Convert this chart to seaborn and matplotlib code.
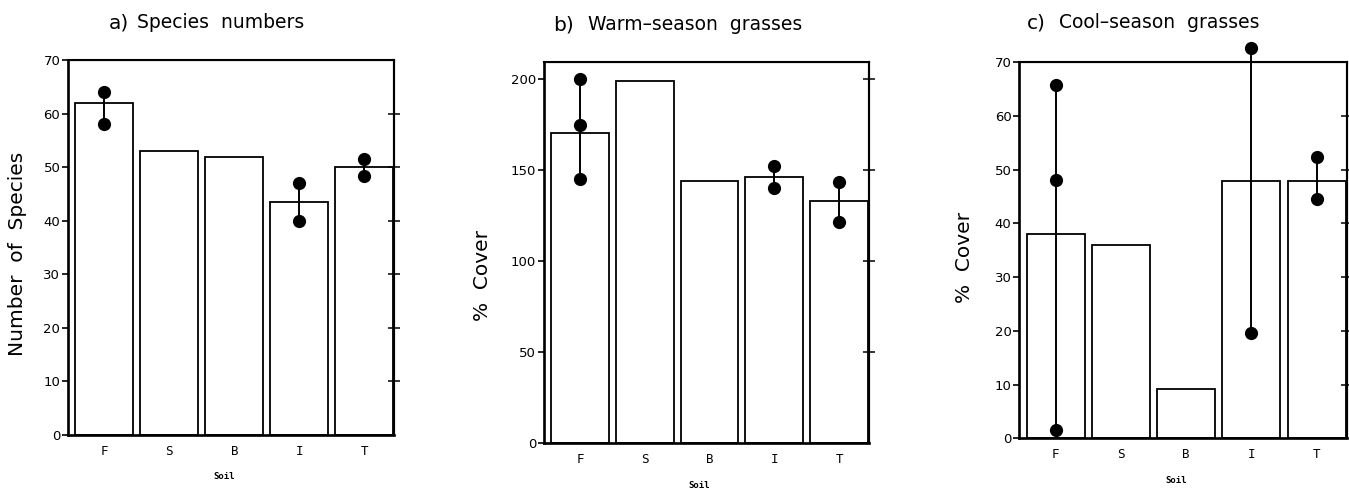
import matplotlib
matplotlib.use("Agg")

import numpy as np
import pandas as pd
import seaborn as sns
import matplotlib.pyplot as plt

sns.set_style("ticks", {"axes.edgecolor": "black", "text.color": "black",
                        "xtick.color": "black", "ytick.color": "black",
                        "axes.labelcolor": "black"})
plt.rcParams['font.family'] = ['DejaVu Sans']

soils = ['F', 'S', 'B', 'I', 'T']

# bar heights per panel
species_bars = [62, 53, 52, 43.5, 50]
warm_bars = [170.7, 199, 144, 146.3, 133.3]
cool_bars = [38, 36, 9.2, 47.9, 47.9]

# replicate points (only soils that have them)
species_pt_soil = ['F', 'F', 'I', 'I', 'T', 'T']
species_pt_val = [64, 58, 47, 40, 51.6, 48.3]
warm_pt_soil = ['F', 'F', 'F', 'I', 'I', 'T', 'T']
warm_pt_val = [200, 175, 145, 152.6, 140.3, 143.6, 121.4]
cool_pt_soil = ['F', 'F', 'F', 'I', 'I', 'T', 'T']
cool_pt_val = [65.7, 48, 1.6, 72.7, 19.7, 52.3, 44.5]

panels = [
    dict(bars=species_bars, pts=(species_pt_soil, species_pt_val), ylim=70,
         yticks=[0, 10, 20, 30, 40, 50, 60, 70], rticks=[10, 20, 30, 40, 50, 60],
         ylabel='Number  of  Species', tag='a)', title='Species  numbers',
         rect=[0.0504, 0.1086, 0.2417, 0.768], ylab_x=-0.125, ylab_y=0.483,
         tag_x=129, title_x=137, title_y=23),
    dict(bars=warm_bars, pts=(warm_pt_soil, warm_pt_val), ylim=209.7,
         yticks=[0, 50, 100, 150, 200], rticks=[50, 100, 150, 200],
         ylabel='%  Cover', tag='b)', title='Warm\u2013season  grasses',
         rect=[0.403, 0.0922, 0.2411, 0.7814], ylab_x=-0.158, ylab_y=0.44,
         tag_x=574, title_x=588, title_y=25),
    dict(bars=cool_bars, pts=(cool_pt_soil, cool_pt_val), ylim=70,
         yticks=[0, 10, 20, 30, 40, 50, 60, 70], rticks=[10, 20, 30, 40, 50, 60],
         ylabel='%  Cover', tag='c)', title='Cool\u2013season  grasses',
         rect=[0.7554, 0.1018, 0.2429, 0.7705], ylab_x=-0.136, ylab_y=0.48,
         tag_x=1046, title_x=1059, title_y=23),
]

W, H = 1349, 488
fig = plt.figure(figsize=(W / 100, H / 100), dpi=100)

for p in panels:
    ax = fig.add_axes(p['rect'])
    sns.barplot(x=soils, y=p['bars'], order=soils, color='white', saturation=1,
                edgecolor='black', linewidth=1.3, width=0.89, ax=ax)

    df = pd.DataFrame({'soil': p['pts'][0], 'val': p['pts'][1]})
    rng = df.groupby('soil')['val'].agg(['min', 'max'])
    xpos = [soils.index(s) for s in rng.index]
    ax.vlines(xpos, rng['min'], rng['max'], color='black', lw=1.4,
              zorder=3, clip_on=False)
    sns.stripplot(data=df, x='soil', y='val', order=soils, jitter=False,
                  color='black', size=9.5, linewidth=0, zorder=4,
                  clip_on=False, ax=ax)

    ax.set_xlim(-0.56, 4.46)
    ax.set_ylim(0, p['ylim'])
    ax.set_yticks(p['yticks'])
    ax.tick_params(axis='y', direction='out', length=4, width=1.2,
                   labelsize=9.5, pad=1.5)
    ax.tick_params(axis='x', length=0, pad=7)
    for lab in ax.get_xticklabels():
        lab.set_fontfamily('DejaVu Sans Mono')
        lab.set_fontsize(9)

    # crossing ticks on the right-hand frame
    tw = ax.twinx()
    tw.set_ylim(ax.get_ylim())
    tw.set_yticks(p['rticks'])
    tw.set_yticklabels([])
    tw.tick_params(axis='y', direction='inout', length=8, width=1.1)
    tw.spines['right'].set_linewidth(1.5)
    tw.grid(False)

    for side in ['top', 'right']:
        ax.spines[side].set_visible(True)
        ax.spines[side].set_linewidth(1.5)
    for side in ['left', 'bottom']:
        ax.spines[side].set_linewidth(1.9)

    ax.set_ylabel(p['ylabel'], fontsize=14.5)
    ax.yaxis.set_label_coords(p['ylab_x'], p['ylab_y'])
    ax.set_xlabel('Soil', fontsize=6.5, fontfamily='DejaVu Sans Mono',
                  fontweight='bold')
    ax.xaxis.set_label_coords(0.478, -0.10)

    fig.text(p['tag_x'] / W, 1 - p['title_y'] / H, p['tag'], fontsize=14.5,
             ha='right', va='center')
    fig.text(p['title_x'] / W, 1 - p['title_y'] / H, p['title'], fontsize=13.5,
             ha='left', va='center')

fig.savefig('out.png', dpi=100)
